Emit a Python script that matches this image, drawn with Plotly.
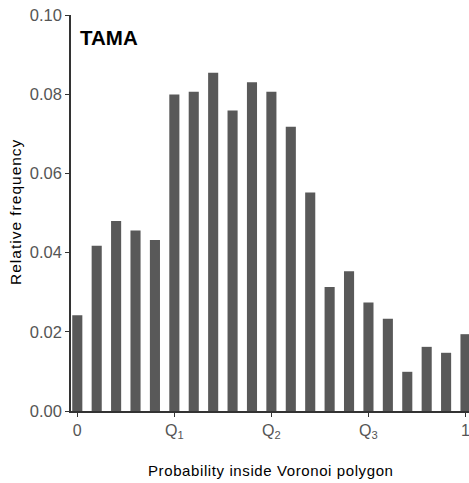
import plotly.graph_objects as go

# Histogram bins (centres) and relative frequencies
bin_centres = [0.00, 0.05, 0.10, 0.15, 0.20, 0.25, 0.30, 0.35, 0.40, 0.45, 0.50,
               0.55, 0.60, 0.65, 0.70, 0.75, 0.80, 0.85, 0.90, 0.95, 1.00]
rel_freq = [0.0242, 0.0417, 0.0480, 0.0456, 0.0432, 0.0799, 0.0806, 0.0854, 0.0759,
            0.0830, 0.0806, 0.0718, 0.0552, 0.0313, 0.0353, 0.0274, 0.0233, 0.0099,
            0.0162, 0.0147, 0.0194]

x_tick_vals = [0, 0.25, 0.5, 0.75, 1]
x_tick_text = ["0", "Q<sub>1</sub>", "Q<sub>2</sub>", "Q<sub>3</sub>", "1"]
y_tick_vals = [0.00, 0.02, 0.04, 0.06, 0.08, 0.10]
y_tick_text = ["0.00", "0.02", "0.04", "0.06", "0.08", "0.10"]

FONT = "Liberation Sans, Arial, sans-serif"


def spaced(text, px):
    return f'<span style="letter-spacing:{px}px">{text}</span>'


fig = go.Figure(
    go.Bar(
        x=bin_centres,
        y=rel_freq,
        width=0.026,
        marker=dict(color="#595959", line=dict(width=0)),
        hoverinfo="x+y",
    )
)

fig.update_layout(
    width=469,
    height=483,
    margin=dict(l=71, r=0, t=15, b=72),
    paper_bgcolor="white",
    plot_bgcolor="white",
    showlegend=False,
    font=dict(family=FONT, color="#4d4d4d"),
    annotations=[
        dict(text="<b>TAMA</b>", xref="paper", yref="paper",
             x=7 / 398, y=(411 - 38) / 396, xanchor="left", yanchor="middle",
             showarrow=False, font=dict(size=20.5, color="black", family=FONT)),
        dict(text=spaced("Probability inside Voronoi polygon", 0.6),
             xref="paper", yref="paper",
             x=(271 - 71) / 398, y=-(470 - 411) / 396, xanchor="center", yanchor="middle",
             showarrow=False, font=dict(size=15, color="black", family=FONT)),
        dict(text=spaced("Relative frequency", 1.0), xref="paper", yref="paper",
             x=-(71 - 15) / 398, y=(411 - 212) / 396, xanchor="center", yanchor="middle",
             textangle=-90, showarrow=False,
             font=dict(size=15.5, color="black", family=FONT)),
    ],
)

fig.update_xaxes(
    range=[-0.0162, 1.009],
    tickmode="array", tickvals=x_tick_vals, ticktext=x_tick_text,
    ticks="outside", ticklen=4, tickwidth=1, tickcolor="#333333",
    showline=True, linecolor="#333333", linewidth=1.5,
    showgrid=False, zeroline=False, ticklabeloverflow="allow",
    tickfont=dict(size=16, color="#555555", family=FONT),
)
fig.update_yaxes(
    range=[0, 0.1],
    tickmode="array", tickvals=y_tick_vals, ticktext=y_tick_text,
    ticks="outside", ticklen=4, tickwidth=1, tickcolor="#333333",
    showline=True, linecolor="#333333", linewidth=1.5,
    showgrid=False, zeroline=False, ticklabeloverflow="allow",
    tickfont=dict(size=16.5, color="#555555", family=FONT),
)

fig.write_html("out.html")
